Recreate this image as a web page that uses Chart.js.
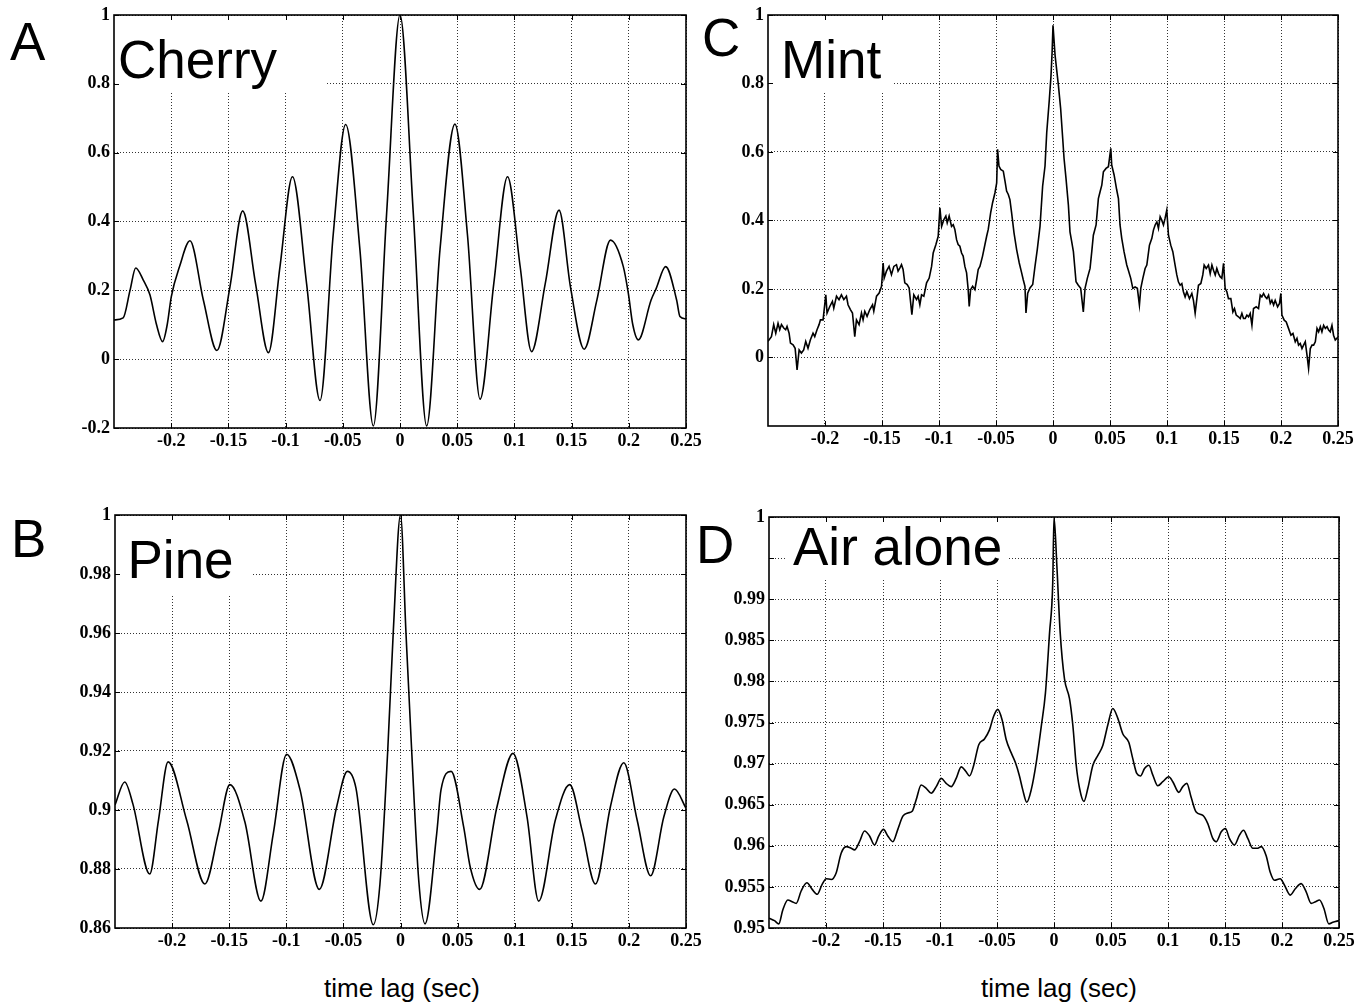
<!DOCTYPE html>
<html>
<head>
<meta charset="utf-8">
<title>Autocorrelation panels</title>
<script src="https://cdn.jsdelivr.net/npm/chart.js@4.4.1/dist/chart.umd.min.js"></script>
<style>
  html, body { margin: 0; padding: 0; background: #fff; }
  body { width: 1366px; height: 1004px; position: relative; overflow: hidden; font-family: "Liberation Sans", Arial, sans-serif; }
  canvas { position: absolute; }
  .letter { position: absolute; font-size: 53px; line-height: 1; color: #000; }
  .xlabel { position: absolute; font-size: 26px; line-height: 1; color: #000; width: 300px; text-align: center; }
</style>
</head>
<body>
<div class="letter" style="left:10px;top:15px">A</div>
<div class="letter" style="left:11px;top:512px">B</div>
<div class="letter" style="left:702px;top:11px">C</div>
<div class="letter" style="left:696px;top:518px">D</div>
<div class="xlabel" style="left:252px;top:975px">time lag (sec)</div>
<div class="xlabel" style="left:909px;top:975px">time lag (sec)</div>

<canvas id="cherryChart" width="670" height="460" style="left:40px;top:0px"></canvas>
<canvas id="mintChart" width="651" height="460" style="left:715px;top:0px"></canvas>
<canvas id="pineChart" width="670" height="460" style="left:40px;top:500px"></canvas>
<canvas id="airChart" width="651" height="460" style="left:715px;top:500px"></canvas>

<script>
// Shared x axis (time lag, sec)
const xTicks = [-0.2, -0.15, -0.1, -0.05, 0, 0.05, 0.1, 0.15, 0.2, 0.25];
const xTickLabels = ['-0.2', '-0.15', '-0.1', '-0.05', '0', '0.05', '0.1', '0.15', '0.2', '0.25'];

// A - Cherry
const cherryTicks = [-0.2, 0, 0.2, 0.4, 0.6, 0.8, 1];
const cherryTickLabels = ['-0.2', '0', '0.2', '0.4', '0.6', '0.8', '1'];
const cherryLag = [-0.25, -0.242, -0.236, -0.231, -0.2244, -0.2186, -0.2128, -0.2075, -0.2035, -0.1999,
    -0.1927, -0.1836, -0.1719, -0.16, -0.1486, -0.1375, -0.1262, -0.115, -0.1049, -0.094,
    -0.0816, -0.0699, -0.0583, -0.0475, -0.035, -0.0233, -0.0117, 0, 0.0117, 0.0233,
    0.035, 0.048, 0.059, 0.07, 0.082, 0.094, 0.105, 0.115, 0.127, 0.139,
    0.149, 0.161, 0.172, 0.184, 0.1952, 0.1996, 0.2035, 0.2083, 0.2195, 0.2239,
    0.2322, 0.2418, 0.2447, 0.25];
const cherryR = [0.114, 0.12, 0.2, 0.265, 0.23, 0.187, 0.1, 0.051, 0.1, 0.182,
    0.269, 0.344, 0.172, 0.025, 0.211, 0.431, 0.218, 0.019, 0.269, 0.53,
    0.218, -0.12, 0.365, 0.682, 0.317, -0.194, 0.423, 1, 0.42, -0.194,
    0.32, 0.683, 0.36, -0.116, 0.22, 0.53, 0.27, 0.022, 0.22, 0.433,
    0.21, 0.029, 0.17, 0.346, 0.269, 0.191, 0.1, 0.056, 0.172, 0.205,
    0.269, 0.172, 0.124, 0.117];

// B - Pine
const pineTicks = [0.86, 0.88, 0.9, 0.92, 0.94, 0.96, 0.98, 1];
const pineTickLabels = ['0.86', '0.88', '0.9', '0.92', '0.94', '0.96', '0.98', '1'];
const pineLag = [-0.25, -0.2415, -0.2343, -0.2196, -0.2119, -0.2035, -0.1873, -0.1713, -0.1596, -0.1494,
    -0.1363, -0.1222, -0.1114, -0.0997, -0.088, -0.0711, -0.0559, -0.0465, -0.039, -0.0238,
    -0.018, -0.0112, -0.0063, 0, 0.0048, 0.0098, 0.016, 0.0215, 0.0317, 0.0355,
    0.0443, 0.0553, 0.0611, 0.0693, 0.0845, 0.0985, 0.1108, 0.121, 0.1356, 0.1482,
    0.159, 0.1707, 0.1838, 0.1955, 0.2072, 0.219, 0.2306, 0.2399, 0.25];
const pineR = [0.9017, 0.9095, 0.902, 0.8783, 0.8966, 0.9163, 0.8966, 0.8749, 0.892, 0.9086,
    0.896, 0.8691, 0.892, 0.9189, 0.9069, 0.8731, 0.9011, 0.9131, 0.9074, 0.8611,
    0.8749, 0.92, 0.9606, 1, 0.96, 0.92, 0.876, 0.8614, 0.892, 0.9069,
    0.9131, 0.8943, 0.8806, 0.8731, 0.9011, 0.9192, 0.8977, 0.8691, 0.8966, 0.9086,
    0.8931, 0.8749, 0.9011, 0.916, 0.8966, 0.8777, 0.8977, 0.9071, 0.9006];

// C - Mint
const mintTicks = [0, 0.2, 0.4, 0.6, 0.8, 1];
const mintTickLabels = ['0', '0.2', '0.4', '0.6', '0.8', '1'];
const mintLag = [-0.25, -0.247, -0.245, -0.2432, -0.2412, -0.2397, -0.2382, -0.2362, -0.2345, -0.2333,
    -0.2315, -0.2303, -0.228, -0.2262, -0.2245, -0.2227, -0.2207, -0.2187, -0.2169, -0.2149,
    -0.2128, -0.2105, -0.209, -0.207, -0.2052, -0.204, -0.2017, -0.1993, -0.1982, -0.1958,
    -0.1935, -0.1923, -0.1899, -0.1877, -0.1856, -0.1835, -0.1812, -0.1798, -0.1777, -0.1759,
    -0.1739, -0.1724, -0.1701, -0.168, -0.1666, -0.1651, -0.1631, -0.1607, -0.1583, -0.1572,
    -0.1548, -0.1525, -0.1504, -0.149, -0.1481, -0.1461, -0.1438, -0.1417, -0.1396, -0.1373,
    -0.1359, -0.1344, -0.1329, -0.1315, -0.13, -0.1279, -0.1262, -0.1238, -0.1221, -0.1197,
    -0.1183, -0.1168, -0.1153, -0.1133, -0.1109, -0.1086, -0.1065, -0.1051, -0.1027, -0.1007,
    -0.0992, -0.0977, -0.0957, -0.094, -0.0928, -0.0911, -0.089, -0.0875, -0.0861, -0.0846,
    -0.0832, -0.0817, -0.0802, -0.0788, -0.0773, -0.0758, -0.0744, -0.0735, -0.0723, -0.0705,
    -0.0685, -0.067, -0.0656, -0.0641, -0.0618, -0.0597, -0.0582, -0.0568, -0.0547, -0.053,
    -0.0509, -0.0494, -0.0486, -0.0474, -0.0459, -0.0436, -0.0421, -0.0407, -0.0392, -0.0378,
    -0.0363, -0.0342, -0.0319, -0.0296, -0.0275, -0.0261, -0.0246, -0.0237, -0.0222, -0.0202,
    -0.0178, -0.0158, -0.0138, -0.0114, -0.0091, -0.007, -0.0055, -0.0032, -0.0018, -0.0008,
    0,
    0.0018, 0.0047, 0.0067, 0.0085, 0.0097, 0.0114, 0.0135, 0.0149, 0.0164, 0.0179,
    0.0202, 0.0222, 0.0243, 0.0266, 0.0281, 0.0301, 0.0325, 0.034, 0.0354, 0.0378,
    0.0398, 0.0413, 0.0428, 0.0442, 0.0465, 0.0486, 0.0507, 0.0515, 0.0536, 0.0559,
    0.0574, 0.0588, 0.0603, 0.0623, 0.0647, 0.0661, 0.0682, 0.07, 0.072, 0.074,
    0.0758, 0.077, 0.0788, 0.0808, 0.0823, 0.0846, 0.0867, 0.0881, 0.0896, 0.0911,
    0.0925, 0.094, 0.0954, 0.0969, 0.0983, 0.0998, 0.1013, 0.1033, 0.1051, 0.1071,
    0.1086, 0.11, 0.1115, 0.113, 0.1144, 0.1159, 0.1174, 0.1197, 0.1218, 0.1232,
    0.1247, 0.1262, 0.1276, 0.1297, 0.1314, 0.1326, 0.1344, 0.1364, 0.1379, 0.1394,
    0.1408, 0.1423, 0.1437, 0.1452, 0.1466, 0.1481, 0.1496, 0.151, 0.1525, 0.1539,
    0.156, 0.1578, 0.1592, 0.1607, 0.1627, 0.1642, 0.1657, 0.1671, 0.1686, 0.1701,
    0.1715, 0.173, 0.1745, 0.1759, 0.1783, 0.1803, 0.1818, 0.1832, 0.1847, 0.1862,
    0.1876, 0.1891, 0.1906, 0.192, 0.1935, 0.1949, 0.197, 0.1987, 0.1999, 0.2008,
    0.2028, 0.2046, 0.2066, 0.2087, 0.2105, 0.2125, 0.214, 0.2154, 0.2169, 0.2184,
    0.2198, 0.2213, 0.2228, 0.2242, 0.2257, 0.2272, 0.2286, 0.2301, 0.2316, 0.233,
    0.2345, 0.2359, 0.2374, 0.2389, 0.2404, 0.2418, 0.2432, 0.2447, 0.2461, 0.2476,
    0.25];
const mintR = [0.047, 0.061, 0.096, 0.071, 0.1, 0.081, 0.096, 0.086, 0.081, 0.091,
    0.071, 0.042, 0.037, 0.027, -0.036, 0.022, 0.013, 0.022, 0.047, 0.027,
    0.052, 0.071, 0.061, 0.081, 0.096, 0.11, 0.11, 0.183, 0.13, 0.149,
    0.164, 0.144, 0.179, 0.169, 0.183, 0.169, 0.179, 0.154, 0.14, 0.13,
    0.061, 0.11, 0.096, 0.13, 0.11, 0.135, 0.12, 0.14, 0.154, 0.135,
    0.179, 0.188, 0.208, 0.276, 0.232, 0.252, 0.266, 0.242, 0.266, 0.271,
    0.252, 0.261, 0.271, 0.257, 0.218, 0.213, 0.203, 0.125, 0.183, 0.169,
    0.179, 0.154, 0.183, 0.179, 0.218, 0.232, 0.266, 0.305, 0.33, 0.354,
    0.437, 0.383, 0.403, 0.413, 0.393, 0.413, 0.383, 0.388, 0.374, 0.344,
    0.33, 0.325, 0.305, 0.296, 0.266, 0.247, 0.198, 0.149, 0.198, 0.208,
    0.198, 0.227, 0.257, 0.266, 0.296, 0.33, 0.354, 0.374, 0.422, 0.452,
    0.481, 0.51, 0.608, 0.559, 0.549, 0.544, 0.515, 0.486, 0.476, 0.461,
    0.422, 0.364, 0.315, 0.276, 0.247, 0.227, 0.208, 0.13, 0.188, 0.203,
    0.213, 0.266, 0.315, 0.383, 0.5, 0.559, 0.657, 0.754, 0.82, 0.89,
    0.97,
    0.883, 0.796, 0.727, 0.64, 0.581, 0.523, 0.445, 0.367, 0.338, 0.309,
    0.221, 0.211, 0.202, 0.133, 0.202, 0.231, 0.26, 0.309, 0.357, 0.387,
    0.464, 0.484, 0.503, 0.542, 0.552, 0.557, 0.611, 0.562, 0.533, 0.489,
    0.464, 0.387, 0.348, 0.309, 0.27, 0.255, 0.231, 0.202, 0.206, 0.202,
    0.153, 0.202, 0.231, 0.26, 0.27, 0.328, 0.348, 0.372, 0.387, 0.396,
    0.377, 0.411, 0.401, 0.387, 0.406, 0.43, 0.357, 0.328, 0.309, 0.27,
    0.241, 0.221, 0.211, 0.216, 0.192, 0.177, 0.192, 0.172, 0.187, 0.167,
    0.129, 0.172, 0.211, 0.216, 0.241, 0.27, 0.26, 0.27, 0.245, 0.27,
    0.255, 0.241, 0.26, 0.245, 0.236, 0.231, 0.275, 0.202, 0.192, 0.172,
    0.172, 0.133, 0.143, 0.124, 0.119, 0.114, 0.129, 0.114, 0.114, 0.124,
    0.119, 0.129, 0.094, 0.143, 0.148, 0.143, 0.182, 0.177, 0.187, 0.177,
    0.172, 0.182, 0.158, 0.167, 0.153, 0.167, 0.148, 0.158, 0.187, 0.124,
    0.109, 0.104, 0.085, 0.065, 0.07, 0.046, 0.056, 0.036, 0.041, 0.026,
    0.036, 0.046, 0.007, -0.032, 0.026, 0.036, 0.036, 0.046, 0.085, 0.075,
    0.09, 0.075, 0.094, 0.085, 0.09, 0.08, 0.075, 0.094, 0.065, 0.051,
    0.06];

// D - Air alone
const airTicks = [0.95, 0.955, 0.96, 0.965, 0.97, 0.975, 0.98, 0.985, 0.99, 0.995, 1];
const airTickLabels = ['0.95', '0.955', '0.96', '0.965', '0.97', '0.975', '0.98', '0.985', '0.99', '', '1'];
const airLag = [-0.25, -0.2452, -0.2414, -0.2379, -0.2335, -0.2297, -0.2261, -0.2218, -0.2168, -0.2121,
    -0.2077, -0.2034, -0.1998, -0.1954, -0.1911, -0.1867, -0.1823, -0.1779, -0.175, -0.1706,
    -0.1662, -0.1618, -0.1575, -0.1537, -0.1496, -0.1458, -0.1414, -0.137, -0.1326, -0.1282,
    -0.1244, -0.1209, -0.1165, -0.1121, -0.1077, -0.1033, -0.0989, -0.0946, -0.0902, -0.0858,
    -0.0814, -0.0776, -0.0741, -0.0706, -0.066, -0.061, -0.0566, -0.0531, -0.0493, -0.0455,
    -0.0419, -0.0375, -0.0338, -0.0303, -0.0274, -0.0239, -0.02, -0.0156, -0.0112, -0.0075,
    -0.0039, -0.0011, 0,
    0.0025, 0.0054, 0.0092, 0.0136, 0.0165, 0.0195, 0.0224, 0.0262, 0.0297, 0.0341,
    0.0385, 0.0428, 0.0472, 0.0516, 0.056, 0.0604, 0.0656, 0.0691, 0.0726, 0.0759,
    0.0794, 0.0832, 0.0867, 0.0911, 0.0954, 0.1007, 0.1042, 0.1095, 0.113, 0.1165,
    0.1203, 0.1247, 0.1306, 0.1349, 0.1393, 0.1423, 0.1467, 0.1504, 0.1539, 0.1583,
    0.1627, 0.1662, 0.17, 0.1744, 0.1788, 0.1817, 0.1861, 0.1896, 0.1934, 0.1984,
    0.2022, 0.2072, 0.2118, 0.2168, 0.2212, 0.2256, 0.2294, 0.2329, 0.2367, 0.2411,
    0.2446, 0.25];
const airR = [0.9512, 0.9509, 0.9505, 0.9522, 0.9534, 0.9532, 0.953, 0.9545, 0.9555, 0.9547,
    0.9541, 0.9553, 0.956, 0.9559, 0.9567, 0.9591, 0.9599, 0.9597, 0.9595, 0.9605,
    0.9618, 0.9612, 0.9601, 0.9612, 0.962, 0.9612, 0.9605, 0.962, 0.9636, 0.964,
    0.9642, 0.9656, 0.9674, 0.967, 0.9664, 0.9672, 0.9682, 0.9676, 0.9672, 0.9682,
    0.9696, 0.9691, 0.9685, 0.9697, 0.9723, 0.973, 0.9741, 0.9757, 0.9766, 0.9753,
    0.9729, 0.9713, 0.9701, 0.9685, 0.9668, 0.9653, 0.9668, 0.9701, 0.9745, 0.9786,
    0.9859, 0.992, 1.0,
    0.9941, 0.986, 0.9803, 0.9779, 0.9747, 0.9698, 0.967, 0.9654, 0.967, 0.9698,
    0.971, 0.9722, 0.9747, 0.9767, 0.9755, 0.9736, 0.9726, 0.9706, 0.9688, 0.9685,
    0.9694, 0.9698, 0.9686, 0.9673, 0.9678, 0.9684, 0.9678, 0.9665, 0.9672, 0.9676,
    0.9659, 0.9641, 0.9637, 0.9627, 0.9609, 0.9605, 0.9617, 0.9621, 0.9609, 0.9601,
    0.9613, 0.9619, 0.9609, 0.9597, 0.9597, 0.9599, 0.9588, 0.9568, 0.9558, 0.956,
    0.9552, 0.954, 0.9548, 0.9554, 0.9544, 0.953, 0.9532, 0.9534, 0.9524, 0.9505,
    0.9507, 0.9509];

const tickFont = { family: '"Liberation Serif", "Times New Roman", serif', weight: 'bold', size: 18 };

// Box around the plot plus short inward ticks on all four sides
const framePlugin = {
    id: 'frame',
    afterDatasetsDraw(chart) {
        const { ctx, chartArea: a, scales } = chart;
        ctx.save();
        ctx.strokeStyle = '#000';
        ctx.lineWidth = 1;
        ctx.beginPath();
        scales.x.ticks.forEach(t => {
            const px = Math.round(scales.x.getPixelForValue(t.value)) + 0.5;
            ctx.moveTo(px, a.bottom); ctx.lineTo(px, a.bottom - 5);
            ctx.moveTo(px, a.top); ctx.lineTo(px, a.top + 5);
        });
        scales.y.ticks.forEach(t => {
            const py = Math.round(scales.y.getPixelForValue(t.value)) + 0.5;
            ctx.moveTo(a.left, py); ctx.lineTo(a.left + 5, py);
            ctx.moveTo(a.right, py); ctx.lineTo(a.right - 5, py);
        });
        ctx.stroke();
        ctx.lineWidth = 1.6;
        ctx.strokeRect(a.left, a.top, a.right - a.left, a.bottom - a.top);
        ctx.restore();
    }
};

// Big panel name on a white patch that hides the grid behind it
const titlePlugin = {
    id: 'panelTitle',
    beforeDatasetsDraw(chart, args, o) {
        const { ctx, chartArea: a } = chart;
        ctx.save();
        ctx.fillStyle = '#fff';
        ctx.fillRect(a.left + o.box[0], a.top + o.box[1], o.box[2] - o.box[0], o.box[3] - o.box[1]);
        ctx.fillStyle = '#000';
        ctx.font = '53px "Liberation Sans", Arial, sans-serif';
        ctx.textBaseline = 'alphabetic';
        ctx.fillText(o.text, a.left + o.x, a.top + o.y);
        ctx.restore();
    }
};

function makePanel(id, lag, r, cfg) {
    const ctx = document.getElementById(id).getContext('2d');
    return new Chart(ctx, {
        type: 'line',
        data: {
            datasets: [{
                data: lag.map((x, i) => ({ x: x, y: r[i] })),
                borderColor: '#000',
                borderWidth: 1.6,
                pointRadius: 0,
                fill: false,
                tension: cfg.tension,
                cubicInterpolationMode: cfg.mode
            }]
        },
        options: {
            responsive: false,
            animation: false,
            devicePixelRatio: 1,
            layout: { padding: cfg.padding },
            plugins: {
                legend: { display: false },
                tooltip: { enabled: false },
                panelTitle: cfg.title
            },
            scales: {
                x: {
                    type: 'linear',
                    min: -0.25,
                    max: 0.25,
                    afterBuildTicks: s => { s.ticks = xTicks.map(v => ({ value: v })); },
                    afterFit: s => { s.height = cfg.xHeight; },
                    grid: { color: 'rgba(0,0,0,0.8)', lineWidth: 1, drawTicks: false },
                    border: { display: false, dash: [1, 2] },
                    ticks: {
                        autoSkip: false,
                        maxRotation: 0,
                        padding: 3,
                        color: '#000',
                        font: tickFont,
                        callback: (v, i) => xTickLabels[i]
                    }
                },
                y: {
                    type: 'linear',
                    min: cfg.yMin,
                    max: cfg.yMax,
                    afterBuildTicks: s => { s.ticks = cfg.yTicks.map(v => ({ value: v })); },
                    afterFit: s => { s.width = cfg.yWidth; },
                    grid: { color: 'rgba(0,0,0,0.8)', lineWidth: 1, drawTicks: false },
                    border: { display: false, dash: [1, 2] },
                    ticks: {
                        autoSkip: false,
                        padding: 4,
                        color: '#000',
                        font: tickFont,
                        callback: (v, i) => cfg.yLabels[i]
                    }
                }
            }
        },
        plugins: [titlePlugin, framePlugin]
    });
}

makePanel('cherryChart', cherryLag, cherryR, {
    yMin: -0.2, yMax: 1, yTicks: cherryTicks, yLabels: cherryTickLabels,
    yWidth: 74, xHeight: 32, padding: { top: 15, right: 24, left: 0, bottom: 0 },
    tension: 0.4, mode: 'monotone',
    title: { text: 'Cherry', x: 4, y: 63, box: [1, 1, 211, 77] }
});

makePanel('mintChart', mintLag, mintR, {
    yMin: -0.2, yMax: 1, yTicks: mintTicks, yLabels: mintTickLabels,
    yWidth: 53, xHeight: 34, padding: { top: 15, right: 28, left: 0, bottom: 0 },
    tension: 0, mode: 'default',
    title: { text: 'Mint', x: 13, y: 63, box: [1, 1, 124, 77] }
});

makePanel('pineChart', pineLag, pineR, {
    yMin: 0.86, yMax: 1, yTicks: pineTicks, yLabels: pineTickLabels,
    yWidth: 75, xHeight: 32, padding: { top: 15, right: 24, left: 0, bottom: 0 },
    tension: 0.4, mode: 'monotone',
    title: { text: 'Pine', x: 12.5, y: 63, box: [1, 1, 137, 80] }
});

makePanel('airChart', airLag, airR, {
    yMin: 0.95, yMax: 1, yTicks: airTicks, yLabels: airTickLabels,
    yWidth: 54, xHeight: 32, padding: { top: 17, right: 27, left: 0, bottom: 0 },
    tension: 0.4, mode: 'monotone',
    title: { text: 'Air alone', x: 24, y: 48, box: [18, 1, 239, 61] }
});
</script>
</body>
</html>
